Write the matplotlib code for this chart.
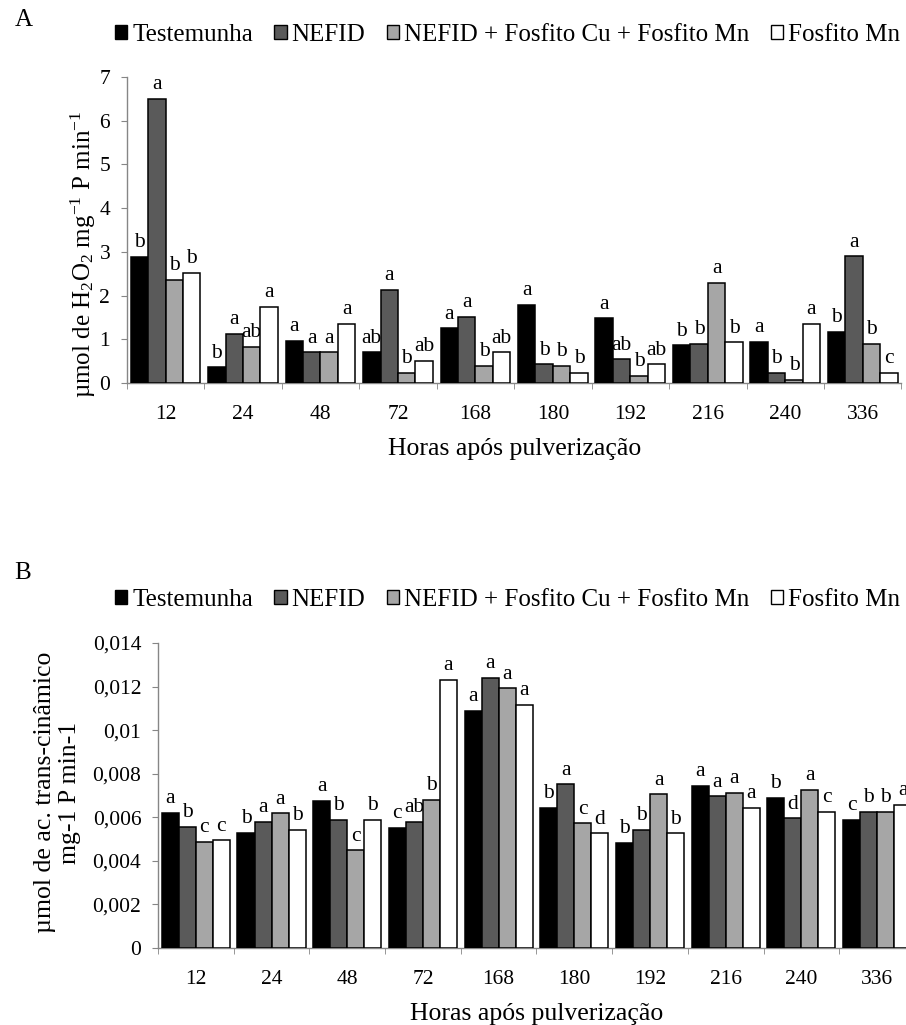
import numpy as np
import matplotlib
matplotlib.use('Agg')
import matplotlib.pyplot as plt
from matplotlib.patches import Patch
from matplotlib.ticker import FixedLocator, FuncFormatter

plt.rcParams['font.family'] = ['Liberation Serif', 'DejaVu Serif']
plt.rcParams['mathtext.fontset'] = 'custom'
plt.rcParams['mathtext.rm'] = 'Liberation Serif'
plt.rcParams['mathtext.it'] = 'Liberation Serif:italic'

# data
hours = ['12', '24', '48', '72', '168', '180', '192', '216', '240', '336']
series_names = ['Testemunha', 'NEFID', 'NEFID + Fosfito Cu + Fosfito Mn',
                'Fosfito Mn']

h2o2_testemunha = [2.88, 0.36, 0.97, 0.70, 1.25, 1.79, 1.48, 0.86, 0.94, 1.17]
h2o2_nefid = [6.50, 1.13, 0.70, 2.14, 1.51, 0.43, 0.54, 0.89, 0.24, 2.90]
h2o2_nefid_fosf = [2.36, 0.82, 0.70, 0.24, 0.39, 0.39, 0.16, 2.29, 0.08, 0.89]
h2o2_fosf_mn = [2.52, 1.74, 1.36, 0.50, 0.70, 0.24, 0.43, 0.93, 1.36, 0.24]
h2o2_letters = [
    ['b', 'b', 'a', 'ab', 'a', 'a', 'a', 'b', 'a', 'b'],
    ['a', 'a', 'a', 'a', 'a', 'b', 'ab', 'b', 'b', 'a'],
    ['b', 'ab', 'a', 'b', 'b', 'b', 'b', 'a', 'b', 'b'],
    ['b', 'a', 'a', 'ab', 'ab', 'b', 'ab', 'b', 'a', 'c'],
]

pal_testemunha = [0.00620, 0.00528, 0.00675, 0.00551, 0.01088, 0.00644,
                  0.00482, 0.00745, 0.00690, 0.00589]
pal_nefid = [0.00556, 0.00580, 0.00588, 0.00580, 0.01240, 0.00751,
             0.00542, 0.00696, 0.00595, 0.00626]
pal_nefid_fosf = [0.00487, 0.00618, 0.00448, 0.00681, 0.01192, 0.00572,
                  0.00705, 0.00712, 0.00727, 0.00626]
pal_fosf_mn = [0.00494, 0.00542, 0.00588, 0.01232, 0.01116, 0.00526,
               0.00526, 0.00643, 0.00626, 0.00658]
pal_letters = [
    ['a', 'b', 'a', 'c', 'a', 'b', 'b', 'a', 'b', 'c'],
    ['b', 'a', 'b', 'ab', 'a', 'a', 'b', 'a', 'd', 'b'],
    ['c', 'a', 'c', 'b', 'a', 'c', 'a', 'a', 'a', 'b'],
    ['c', 'b', 'b', 'a', 'a', 'd', 'b', 'a', 'c', 'a'],
]

COLORS = ['#000000', '#5a5a5a', '#a6a6a6', '#ffffff']
AXIS_GRAY = '#868686'
BAR_W = 0.225


def draw_panel(ax, series, letters, ymax, ystep, fmt):
    """grouped bars with significance letters"""
    x = np.arange(len(hours))
    for i, vals in enumerate(series):
        pos = x + (i - 1.5) * BAR_W
        ax.bar(pos, vals, BAR_W, color=COLORS[i], edgecolor='black',
               linewidth=1.1, zorder=3)
        for px, val, let in zip(pos, vals, letters[i]):
            ax.annotate(let, (px, val), xytext=(0, 7),
                        textcoords='offset points', ha='center',
                        va='baseline', fontsize=15.5, annotation_clip=False)
    ax.set_xlim(-0.5, len(hours) - 0.5)
    ax.set_ylim(0, ymax)
    ax.set_yticks(np.arange(0, ymax + ystep / 2, ystep))
    ax.yaxis.set_major_formatter(FuncFormatter(fmt))
    ax.set_xticks(x)
    ax.set_xticklabels(hours)
    ax.xaxis.set_minor_locator(FixedLocator(np.arange(-0.5, len(hours), 1)))
    ax.tick_params(axis='x', which='major', length=0, pad=16, labelsize=15.5)
    ax.tick_params(axis='x', which='minor', length=4, color=AXIS_GRAY,
                   direction='out')
    ax.tick_params(axis='y', length=4, color=AXIS_GRAY, pad=8,
                   labelsize=15.5)
    for side in ['top', 'right']:
        ax.spines[side].set_visible(False)
    for side in ['left', 'bottom']:
        ax.spines[side].set_color(AXIS_GRAY)
        ax.spines[side].set_linewidth(1.0)
    ax.set_xlabel('Horas após pulverização', fontsize=18.5, labelpad=10)


def fmt_int(v, _):
    return f'{v:.0f}'


def fmt_comma(v, _):
    if abs(v) < 1e-12:
        return '0'
    return (f'{v:.3f}'.rstrip('0')).replace('.', ',')


fig = plt.figure(figsize=(9.06, 10.25), dpi=100)

ax_a = fig.add_axes([0.140, 0.6263, 0.855, 0.2985])
draw_panel(ax_a, [h2o2_testemunha, h2o2_nefid, h2o2_nefid_fosf, h2o2_fosf_mn],
           h2o2_letters, 7, 1, fmt_int)
ax_a.set_ylabel(r'µmol de H$_2$O$_2$ mg$^{-1}$ P min$^{-1}$', fontsize=18)
ax_a.yaxis.set_label_coords(-0.037, 0.42)

ax_b = fig.add_axes([0.1744, 0.0751, 0.8355, 0.2976])
draw_panel(ax_b, [pal_testemunha, pal_nefid, pal_nefid_fosf, pal_fosf_mn],
           pal_letters, 0.014, 0.002, fmt_comma)
ax_b.set_ylabel('µmol de ac. trans-cinâmico\nmg-1 P min-1', fontsize=18.5,
                linespacing=1.15)
ax_b.yaxis.set_label_coords(-0.102, 0.51)

handles = [Patch(facecolor=c, edgecolor='black', linewidth=1.0)
           for c in COLORS]
for ypos in [0.966, 0.415]:
    fig.legend(handles, series_names, loc='center',
               bbox_to_anchor=(0.560, ypos), ncol=4, frameon=False,
               fontsize=18, handlelength=0.5, handleheight=0.5,
               handletextpad=0.2, columnspacing=0.85, borderpad=0)

fig.text(0.016, 0.980, 'A', fontsize=18, va='center')
fig.text(0.016, 0.441, 'B', fontsize=18, va='center')

fig.savefig('out.png', dpi=100)
